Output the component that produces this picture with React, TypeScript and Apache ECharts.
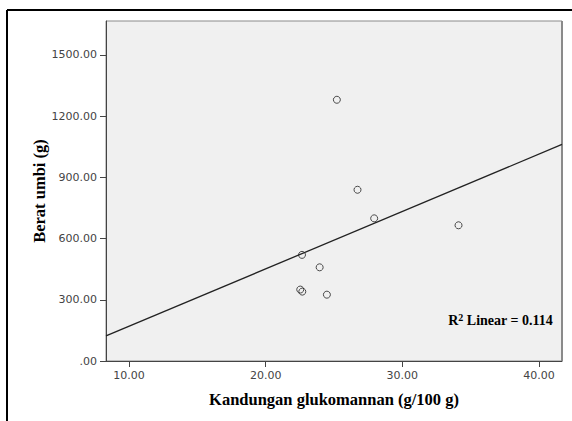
import React, { useEffect, useRef } from "react";
import * as echarts from "echarts";

const glukomannan = [25.21, 26.72, 27.94, 34.11, 22.66, 23.95, 22.53, 22.68, 24.48];
const beratUmbi = [1280, 839, 699, 665, 520, 459, 350, 340, 325];
const xTicks = [10, 20, 30, 40];
const yTicks = [0, 300, 600, 900, 1200, 1500];
const xRange = [8.32, 41.68];
const yRange = [0, 1666];
const r2Label = "0.114";

function fitLine(xs: number[], ys: number[]) {
  const n = xs.length;
  const mx = xs.reduce((a, b) => a + b, 0) / n;
  const my = ys.reduce((a, b) => a + b, 0) / n;
  let sxy = 0;
  let sxx = 0;
  for (let i = 0; i < n; i++) {
    sxy += (xs[i] - mx) * (ys[i] - my);
    sxx += (xs[i] - mx) * (xs[i] - mx);
  }
  const b = sxy / sxx;
  const a = my - b * mx;
  return xRange.map((x) => [x, a + b * x]);
}

const fmt = (v: number) => (v === 0 ? ".00" : v.toFixed(2));

export default function App() {
  const ref = useRef<HTMLDivElement>(null);
  useEffect(() => {
    if (!ref.current) return;
    const chart = echarts.init(ref.current, undefined, { renderer: "svg" });
    const serif = "'Liberation Serif', 'Times New Roman', serif";
    const sans = "'DejaVu Sans', Verdana, sans-serif";
    chart.setOption({
      animation: false,
      backgroundColor: "#ffffff",
      grid: {
        left: 106,
        top: 21,
        right: 10,
        bottom: 60,
        show: true,
        backgroundColor: "#f0f0f0",
        borderColor: "#8a8a8a",
        borderWidth: 1,
      },
      xAxis: {
        type: "value",
        min: xRange[0],
        max: xRange[1],
        name: "Kandungan glukomannan (g/100 g)",
        nameLocation: "middle",
        nameGap: 30,
        nameMoveOverlap: false,
        nameTextStyle: { fontFamily: serif, fontWeight: "bold", fontSize: 16.5, color: "#000" },
        axisLine: { show: true, lineStyle: { color: "#444", width: 1 } },
        axisTick: { show: true, length: 6, customValues: xTicks, lineStyle: { color: "#444" } },
        axisLabel: {
          customValues: xTicks,
          formatter: (v: number) => fmt(v),
          fontFamily: sans,
          fontSize: 11,
          color: "#444",
          margin: 9,
        },
        splitLine: { show: false },
      },
      yAxis: {
        type: "value",
        min: yRange[0],
        max: yRange[1],
        name: "Berat umbi (g)",
        nameLocation: "middle",
        nameGap: 58,
        nameMoveOverlap: false,
        nameTextStyle: { fontFamily: serif, fontWeight: "bold", fontSize: 16.5, color: "#000" },
        axisLine: { show: true, lineStyle: { color: "#444", width: 1 } },
        axisTick: { show: true, length: 6, customValues: yTicks, lineStyle: { color: "#444" } },
        axisLabel: {
          customValues: yTicks,
          formatter: (v: number) => fmt(v),
          fontFamily: sans,
          fontSize: 11,
          color: "#444",
          margin: 9,
        },
        splitLine: { show: false },
      },
      series: [
        {
          type: "line",
          data: fitLine(glukomannan, beratUmbi),
          showSymbol: false,
          symbol: "none",
          lineStyle: { color: "#222", width: 1.3 },
          z: 2,
        },
        {
          type: "scatter",
          data: glukomannan.map((x, i) => [x, beratUmbi[i]]),
          symbol: "circle",
          symbolSize: 7,
          itemStyle: { color: "rgba(0,0,0,0)", borderColor: "#222", borderWidth: 1 },
          z: 3,
        },
      ],
      graphic: [
        {
          type: "line",
          shape: { x1: 7, y1: 10, x2: 572, y2: 10 },
          style: { stroke: "#000", lineWidth: 2 },
        },
        {
          type: "line",
          shape: { x1: 7, y1: 10, x2: 7, y2: 421 },
          style: { stroke: "#000", lineWidth: 2 },
        },
        {
          type: "line",
          shape: { x1: 562, y1: 21, x2: 562, y2: 361 },
          style: { stroke: "#8a8a8a", lineWidth: 2 },
        },
        {
          type: "text",
          right: 19,
          top: 312,
          style: {
            text: "{a|R}{s|2}{a| Linear = " + r2Label + "}",
            rich: {
              a: { fontFamily: serif, fontWeight: "bold", fontSize: 14, fill: "#000" },
              s: { fontFamily: serif, fontWeight: "bold", fontSize: 10, fill: "#000", verticalAlign: "top", padding: [0, 0, 6, 0] },
            },
          },
        },
      ],
    });
    return () => chart.dispose();
  }, []);
  return (
    <div
      ref={ref}
      style={{ position: "absolute", left: 0, top: 0, width: 572, height: 421 }}
    />
  );
}
